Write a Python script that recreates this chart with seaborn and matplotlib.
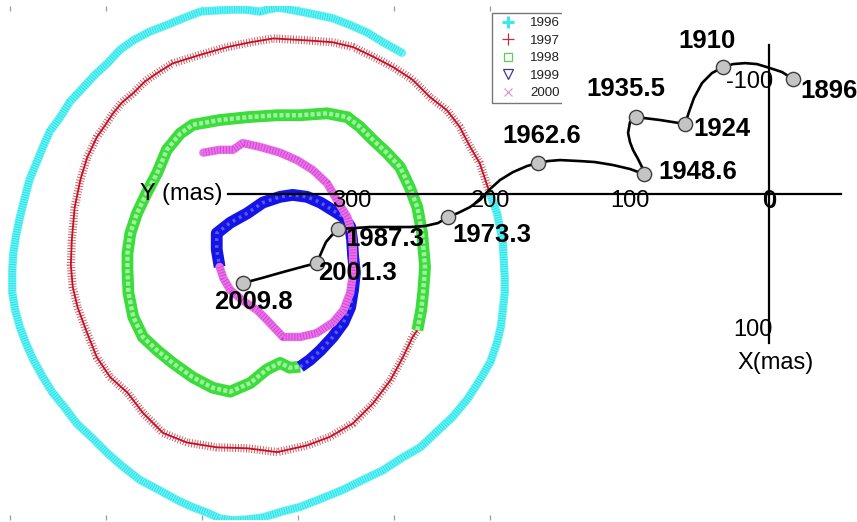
import numpy as np
import pandas as pd
import matplotlib
matplotlib.use("Agg")
import matplotlib.pyplot as plt
from matplotlib.lines import Line2D
from matplotlib.patches import Rectangle
import seaborn as sns

sns.set_theme(style="white")
plt.rcParams["font.family"] = ["Liberation Sans", "DejaVu Sans"]

# ---------------------------------------------------------------------------
# Daily pole positions 1996-2000 (mas, about the mean pole of the period)
# ---------------------------------------------------------------------------
x_1996 = [150, 132, 114, 96, 78, 59, 44, 28, 20, 10, 2, -14, -26, -45, -60, -78, -95, -113, -130, -144,
          -157, -170, -182, -196, -206, -217, -224, -231, -238, -243, -248, -252, -255, -256, -256, -253,
          -248, -242, -234, -224, -214, -201, -189, -173, -157, -141, -123, -104, -84, -69, -53, -40, -26,
          -10, 5, 25, 44, 67, 89, 109, 130, 150, 169, 186, 203, 218, 231, 242, 249, 253, 255, 257, 257,
          256, 255, 252, 249, 242]
y_1996 = [220, 230, 241, 249, 256, 260, 263, 266, 267, 265, 263, 265, 265, 264, 263, 256, 249, 242, 233, 223,
          209, 197, 184, 169, 153, 138, 122, 105, 88, 69, 49, 30, 11, -6, -30, -48, -66, -82, -100, -118,
          -134, -150, -166, -181, -197, -211, -225, -235, -246, -253, -259, -265, -267, -266, -264, -258,
          -253, -244, -235, -225, -215, -202, -191, -175, -159, -141, -121, -102, -82, -65, -48, -30, -14,
          4, 22, 38, 53, 72]

x_1997 = [241, 236, 231, 221, 210, 197, 179, 161, 141, 120, 99, 78, 51, 33, 16, -8, -32, -60, -89, -105,
          -118, -130, -142, -151, -159, -168, -178, -185, -191, -194, -195, -193, -188, -178, -168, -154,
          -136, -120, -99, -74, -43, -11, 20, 51, 75, 99, 120, 138, 151, 161, 166]
y_1997 = [75, 90, 105, 122, 143, 160, 174, 192, 205, 216, 226, 231, 233, 234, 235, 231, 226, 218, 209, 199,
          190, 178, 168, 157, 145, 132, 111, 88, 59, 25, -1, -24, -45, -72, -97, -118, -134, -155, -176,
          -186, -191, -192, -196, -189, -180, -166, -145, -121, -97, -76, -69]

x_1998 = [166, 170, 172, 174, 171, 166, 158, 148, 134, 120, 106, 93, 72, 44, 20, -11, -40, -68, -81, -95,
          -105, -116, -126, -133, -136, -136, -135, -130, -120, -105, -89, -68, -47, -29, -8, 9, 23, 33, 44]
y_1998 = [-69, -48, -30, -3, 32, 59, 80, 101, 116, 129, 143, 153, 157, 155, 155, 153, 150, 145, 136, 119,
          95, 74, 53, 32, 11, -6, -30, -55, -76, -90, -103, -118, -129, -133, -124, -110, -103, -108, -107]

x_1999 = [44, 54, 65, 78, 89, 96, 99, 101, 99, 98, 96, 89, 78, 65, 51, 36, 23, 5, -11, -29, -43, -43, -40]
y_1999 = [-107, -100, -90, -76, -61, -45, -27, -9, 9, 25, 39, 49, 56, 64, 70, 72, 70, 64, 53, 43, 32, 15, -3]

x_2000 = [-40, -36, -29, -16, -1, 9, 26, 44, 61, 78, 89, 96, 99, 99, 98, 93, 82, 72, 57, 41, 23, 2, -16,
          -26, -40, -57]
y_2000 = [-3, -15, -27, -38, -48, -58, -76, -76, -72, -61, -48, -30, -9, 11, 32, 49, 67, 84, 98, 108, 116,
          122, 126, 119, 119, 116]

years = ["1996", "1997", "1998", "1999", "2000"]

# ---------------------------------------------------------------------------
# Drift of the mean pole since 1896 (Y, X in mas)
# ---------------------------------------------------------------------------
path_Y = [-17.3, -9.4, -0.7, 8.6, 17.3, 25.9, 33.1, 41.0, 48.2, 54.0, 57.6, 60.4, 78.4, 95.7, 100.0, 101.4,
          100.0, 97.8, 94.2, 91.4, 89.9, 100.0, 112.2, 125.2, 136.0, 150.4, 159.0, 166.2, 174.1, 184.2,
          193.5, 200.7, 207.9, 215.1, 223.7, 230.9, 238.1, 247.5, 258.3, 272.7, 287.1, 297.8, 310.1, 314.4,
          318.7, 321.6, 323.7, 325.2, 333.8, 349.6, 364.7, 378.4]
path_X = [-92.7, -98.4, -101.6, -104.8, -105.6, -104.8, -102.4, -97.6, -89.5, -77.4, -66.1, -56.5, -59.7,
          -62.1, -58.1, -49.2, -41.9, -35.5, -28.2, -21.8, -16.1, -20.2, -23.4, -25.8, -26.6, -27.4, -26.6,
          -25.0, -22.6, -17.7, -11.3, -4.0, 4.8, 10.5, 15.3, 18.5, 23.4, 25.8, 26.6, 26.6, 26.6, 27.4, 28.2,
          33.1, 38.7, 46.0, 51.6, 55.6, 58.1, 62.9, 67.7, 71.8]

epoch_labels = ["1896", "1910", "1924", "1935.5", "1948.6", "1962.6", "1973.3", "1987.3", "2001.3", "2009.8"]
epoch_Y = [-17.3, 33.1, 60.4, 95.7, 89.9, 166.2, 230.9, 310.1, 325.2, 378.4]
epoch_X = [-92.7, -102.4, -56.5, -62.1, -16.1, -25.0, 18.5, 28.2, 55.6, 71.8]

Y_ticks = [0, 100, 200, 300]
Y_minor = [50, 150, 250, 350]
X_ticks = [-100, 0, 100]
X_minor = [-50]

# ---------------------------------------------------------------------------
fig = plt.figure(figsize=(8.57, 5.22), dpi=100, facecolor="white")

# ---- background panel: yearly loops -------------------------------------
ax = fig.add_axes([0, 2 / 522, 1, 514 / 522])
ax.set_xlim(-268.8, 624.0)
ax.set_ylim(-266.7, 268.8)


def ring(xs, ys, layers):
    df = pd.DataFrame({"x": xs, "y": ys})
    for kw in layers:
        sns.lineplot(data=df, x="x", y="y", sort=False, estimator=None, ax=ax, **kw)


ring(x_1996, y_1996, [
    dict(color="#6af2f4", lw=6.0, solid_capstyle="round", solid_joinstyle="round"),
    dict(color="#22e0e8", lw=5.0, linestyle=(0, (0.12, 0.22))),
])
ring(x_1997, y_1997, [
    dict(color="#c85462", lw=6.0, linestyle=(0, (0.11, 0.22))),
    dict(color="#c81020", lw=1.3),
])
ring(x_1998, y_1998, [
    dict(color="#3cdc3c", lw=8.5, solid_capstyle="butt"),
    dict(color="#a0f0a0", lw=3.2, linestyle=(0, (0.9, 0.5))),
])
ring(x_1999, y_1999, [
    dict(color="#1414e6", lw=8.5, solid_capstyle="butt"),
    dict(color="#5a5af0", lw=2.5, linestyle=(0, (0.8, 1.2))),
])
ring(x_2000, y_2000, [
    dict(color="#e872e8", lw=6.0, solid_capstyle="round", solid_joinstyle="round"),
    dict(color="#d63cd6", lw=5.0, linestyle=(0, (0.12, 0.3))),
])

ax.set_xlabel("")
ax.set_ylabel("")
ax.set_xticks(np.arange(-258, 243, 100))
ax.set_yticks([])
for s in ax.spines.values():
    s.set_visible(False)
ax.tick_params(axis="x", which="both", top=True, bottom=True, direction="in", length=3.8,
               width=0.9, color="#9a9a9a", labelbottom=False, labeltop=False)

handles = [
    Line2D([], [], ls="none", marker="+", ms=8, mew=2.2, color="#3ae8f0"),
    Line2D([], [], ls="none", marker="+", ms=8, mew=0.9, color="#c0303e"),
    Line2D([], [], ls="none", marker="s", ms=6, mew=0.9, mfc="none", mec="#5ccc5c"),
    Line2D([], [], ls="none", marker="v", ms=7, mew=0.9, mfc="none", mec="#3a3a8a"),
    Line2D([], [], ls="none", marker="x", ms=6, mew=0.9, color="#d79ad7"),
]
leg = ax.legend(handles, years, loc="upper left", bbox_to_anchor=(492 / 857, 1 - 7 / 514),
                bbox_transform=ax.transAxes, borderaxespad=0, frameon=True, fancybox=False,
                fontsize=9.6, borderpad=0.3, handlelength=1.8, handletextpad=0.75,
                labelspacing=0.39)
leg.get_frame().set_edgecolor("#555555")
leg.get_frame().set_linewidth(1.0)
for t in leg.get_texts():
    t.set_color("#222222")

# ---- foreground panel: secular drift -------------------------------------
ax2 = fig.add_axes([0, 0, 1, 1])
ax2.set_facecolor("none")
ax2.set_xlim(553.2, -63.3)
ax2.set_ylim(264.5, -156.5)
ax2.add_patch(Rectangle((562 / 857, 1 - 110 / 522), 1, 1, transform=ax2.transAxes,
                        facecolor="white", edgecolor="none", zorder=0))

for s in ("top", "right"):
    ax2.spines[s].set_visible(False)
ax2.spines["bottom"].set_position(("data", 0))
ax2.spines["left"].set_position(("data", 0))
ax2.spines["bottom"].set_bounds(389, -52)
ax2.spines["left"].set_bounds(-120, 120)
for s in ("bottom", "left"):
    ax2.spines[s].set_linewidth(1.6)
    ax2.spines[s].set_color("black")

ax2.set_xticks(Y_ticks)
ax2.set_xticks(Y_minor, minor=True)
ax2.set_yticks(X_ticks)
ax2.set_yticks(X_minor, minor=True)
ax2.tick_params(axis="x", which="major", length=0, labelbottom=False)
ax2.tick_params(axis="x", which="minor", length=4, width=1.2, direction="in", color="black")
ax2.tick_params(axis="y", which="both", length=4, width=1.2, direction="in", color="black",
                labelleft=False)

# tick labels; the two zeros sit almost on top of each other at the origin
for v in Y_ticks:
    ax2.annotate(str(v), xy=(v, 0), xytext=(0, -7), textcoords="offset pixels",
                 ha="center", va="center", fontsize=17, color="black")
for v in X_ticks:
    dy = -8 if v == 0 else -12
    ax2.annotate(str(v), xy=(0, v), xytext=(7 if v == 0 else 4, dy), textcoords="offset pixels",
                 ha="right", va="center", fontsize=17, color="black")

ax2.annotate("Y (mas)", xy=(389, 0), xytext=(-6, 0), textcoords="offset pixels",
             ha="right", va="center", fontsize=17, color="black")
ax2.annotate("X(mas)", xy=(0, 120), xytext=(-32, -20), textcoords="offset pixels",
             ha="left", va="center", fontsize=17, color="black")

path_df = pd.DataFrame({"Y": path_Y, "X": path_X})
sns.lineplot(data=path_df, x="Y", y="X", sort=False, estimator=None, ax=ax2,
             color="black", lw=1.9, zorder=3)
epoch_df = pd.DataFrame({"Y": epoch_Y, "X": epoch_X, "epoch": epoch_labels})
sns.scatterplot(data=epoch_df, x="Y", y="X", ax=ax2, s=105, color="#c4c4c4",
                edgecolor="#3c3c3c", linewidth=1.0, zorder=4)

label_place = {
    "1896": ((7, -12), "left"),
    "1910": ((-16, 26), "center"),
    "1924": ((8, -5), "left"),
    "1935.5": ((-10, 28), "center"),
    "1948.6": ((14, 2), "left"),
    "1962.6": ((4, 27), "center"),
    "1973.3": ((4, -18), "left"),
    "1987.3": ((7, -10), "left"),
    "2001.3": ((1, -10), "left"),
    "2009.8": ((10, -19), "center"),
}
for lab, yv, xv in zip(epoch_labels, epoch_Y, epoch_X):
    off, ha = label_place[lab]
    ax2.annotate(lab, xy=(yv, xv), xytext=off, textcoords="offset pixels", ha=ha, va="center",
                 fontsize=18.5, fontweight="bold", color="black", zorder=5)

ax2.set_xlabel("")
ax2.set_ylabel("")

fig.savefig("out.png", dpi=100, facecolor="white")
